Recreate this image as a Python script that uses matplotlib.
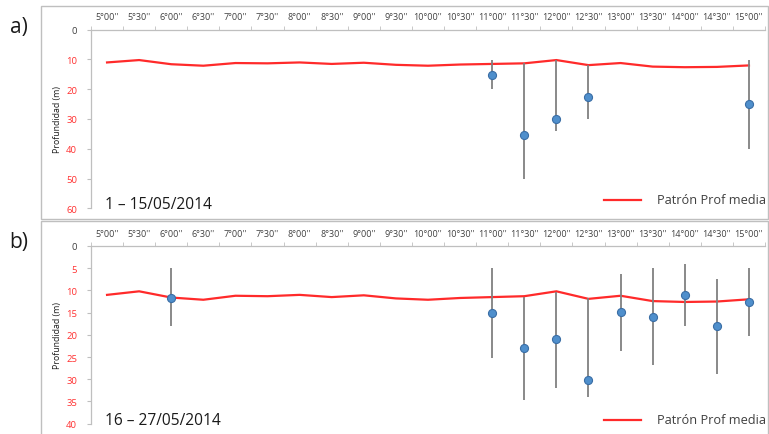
import matplotlib
matplotlib.use("Agg")
import matplotlib.pyplot as plt
from matplotlib.patches import Rectangle
from matplotlib.lines import Line2D
import numpy as np

plt.rcParams['font.family'] = ['Open Sans', 'DejaVu Sans']

categories = ["5°00''", "5°30''", "6°00''", "6°30''", "7°00''", "7°30''", "8°00''",
              "8°30''", "9°00''", "9°30''", "10°00''", "10°30''", "11°00''", "11°30''",
              "12°00''", "12°30''", "13°00''", "13°30''", "14°00''", "14°30''", "15°00''"]

patron_prof_media = [11.0, 10.2, 11.6, 12.1, 11.2, 11.3, 11.0, 11.5, 11.1, 11.8, 12.1,
                     11.7, 11.5, 11.3, 10.2, 11.9, 11.2, 12.4, 12.6, 12.5, 12.0]

# panel a: 1-15/05/2014
a_cats = ["11°00''", "11°30''", "12°00''", "12°30''", "15°00''"]
a_mean = [15.1, 35.5, 30.0, 22.6, 25.0]
a_min = [10.2, 11.3, 10.2, 11.9, 10.2]
a_max = [20.0, 50.0, 34.0, 30.0, 40.0]

# panel b: 16-27/05/2014
b_cats = ["6°00''", "11°00''", "11°30''", "12°00''", "12°30''", "13°00''", "13°30''",
          "14°00''", "14°30''", "15°00''"]
b_mean = [11.6, 15.1, 23.0, 21.0, 30.1, 14.9, 15.9, 11.05, 18.1, 12.5]
b_min = [5.0, 5.0, 11.4, 10.3, 11.8, 6.2, 5.0, 4.1, 7.4, 5.0]
b_max = [18.1, 25.1, 34.7, 32.0, 34.1, 23.6, 26.8, 18.1, 28.9, 20.2]

W, H = 769, 435
fig = plt.figure(figsize=(W / 100, H / 100), dpi=100)

def fx(px):
    return px / W

def fy(py):
    return 1 - py / H

# panel borders
for (x0, y0, x1, y1) in [(41, 7, 768, 219.5), (41, 222, 768, 436)]:
    fig.patches.append(Rectangle((fx(x0), fy(y1)), fx(x1) - fx(x0), fy(y0) - fy(y1),
                                 transform=fig.transFigure, fill=False,
                                 edgecolor='#bfbfbf', linewidth=1.0))

line_color = '#ff2a2a'
dot_face = '#4f8fcc'
dot_edge = '#3a6ea5'
bar_color = '#808080'
text_color = '#404040'

def panel(top_px, bot_px, ymax, ystep, cats, mean, lo, hi, date_text, letter, letter_y, leg_y, date_y):
    left_px, right_px = 91, 765
    ax = fig.add_axes([fx(left_px), fy(bot_px), fx(right_px) - fx(left_px), fy(top_px) - fy(bot_px)])
    x = np.arange(len(categories))
    ax.plot(x, patron_prof_media, color=line_color, lw=1.6, zorder=2)
    idx = [categories.index(c) for c in cats]
    mean = np.array(mean); lo = np.array(lo); hi = np.array(hi)
    ax.vlines(idx, lo, hi, color=bar_color, lw=1.3, zorder=3)
    ax.plot(idx, mean, 'o', ms=5.8, mfc=dot_face, mec=dot_edge, mew=0.8, zorder=4)
    ax.set_xlim(-0.5, len(categories) - 0.5)
    ax.set_ylim(ymax, 0)
    ax.xaxis.tick_top()
    ax.set_xticks(x)
    ax.set_xticklabels(categories, fontsize=6.5, color=text_color)
    ax.set_xticks(np.arange(-0.5, len(categories) - 0.4, 1), minor=True)
    ax.tick_params(axis='x', which='major', length=0, pad=6)
    ax.tick_params(axis='x', which='minor', length=3, color='#bfbfbf', direction='out')
    yt = np.arange(0, ymax + 1, ystep)
    ax.set_yticks(yt)
    ax.set_yticklabels([str(int(v)) for v in yt], fontsize=6.8)
    for i, t in enumerate(ax.get_yticklabels()):
        t.set_color(text_color if i == 0 else '#ff3030')
    ax.tick_params(axis='y', length=3, color='#bfbfbf', direction='out', pad=7)
    for s in ['right', 'bottom']:
        ax.spines[s].set_visible(False)
    for s in ['left', 'top']:
        ax.spines[s].set_color('#bfbfbf')
        ax.spines[s].set_linewidth(0.9)
    ax.set_ylabel('Profundidad (m)', fontsize=6.3, labelpad=3, color='#1a1a1a')
    ax.patch.set_alpha(0)
    fig.text(fx(105), fy(date_y), date_text, fontsize=11.2, color='#1a1a1a',
             ha='left', va='baseline')
    # legend
    fig.add_artist(Line2D([fx(604), fx(641)], [fy(leg_y), fy(leg_y)], color=line_color,
                          lw=1.6, transform=fig.transFigure))
    fig.text(fx(657), fy(leg_y), 'Patrón Prof media', fontsize=9.2, color=text_color,
             ha='left', va='center')
    fig.text(fx(19), fy(letter_y), letter, fontsize=15, ha='center', va='center', color='#1a1a1a')
    return ax

panel(30.7, 209.3, 60, 10, a_cats, a_mean, a_min, a_max, '1 – 15/05/2014', 'a)', 28, 200.5, 209.5)
panel(247, 424.7, 40, 5, b_cats, b_mean, b_min, b_max, '16 – 27/05/2014', 'b)', 243, 420.5, 425)

fig.savefig('out.png', dpi=100)
